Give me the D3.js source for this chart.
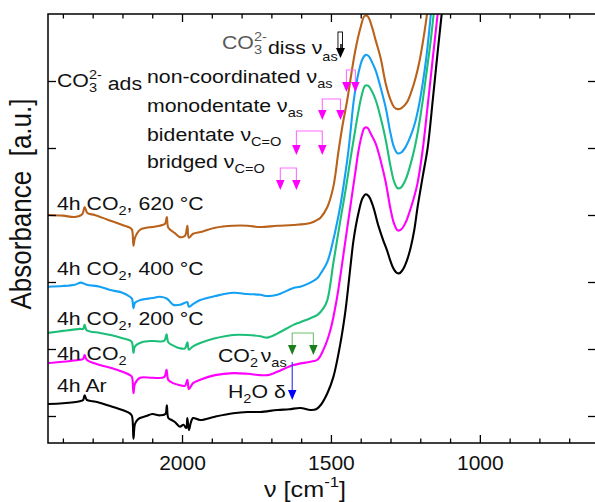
<!DOCTYPE html>
<html><head><meta charset="utf-8">
<script src="https://cdn.jsdelivr.net/npm/d3@7"></script>
<style>html,body{margin:0;padding:0;background:#fff;} svg{display:block;font-family:"Liberation Sans",Arial,Helvetica,sans-serif;}</style>
</head><body><svg id="c" width="595" height="502"></svg>
<script>
// ---------------- data ----------------
const wnMajorTicks = [2000, 1500, 1000];
const wnMinorTicks = [2400,2300,2200,2100,1900,1800,1700,1600,1400,1300,1200,1100,900,800,700];
const absTicks = [0, 0.1, 0.2, 0.3, 0.4, 0.5];

const specAr = [[2450,0.018],[2400,0.019],[2343,0.022],[2332,0.024],[2327,0.031],[2320,0.024],[2300,0.022],[2286,0.021],[2250,0.016],[2200,0.009],[2175,0.004],[2168,0.000],[2163,-0.034],[2158,-0.012],[2150,-0.006],[2141,-0.003],[2120,0.000],[2100,0.003],[2074,0.001],[2056,0.003],[2051,0.016],[2046,-0.003],[2035,-0.006],[2024,-0.009],[2007,-0.016],[1995,-0.013],[1986,-0.018],[1982,-0.003],[1977,-0.021],[1970,-0.009],[1963,-0.003],[1939,-0.006],[1889,-0.001],[1828,0.004],[1780,0.006],[1737,0.006],[1680,0.009],[1640,0.010],[1603,0.012],[1569,0.009],[1550,0.010],[1535,0.016],[1512,0.034],[1492,0.058],[1468,0.109],[1451,0.158],[1434,0.225],[1424,0.263],[1407,0.304],[1394,0.325],[1383,0.331],[1373,0.328],[1360,0.315],[1340,0.283],[1325,0.263],[1310,0.245],[1300,0.231],[1290,0.220],[1280,0.214],[1270,0.213],[1258,0.219],[1245,0.232],[1232,0.252],[1220,0.278],[1209,0.312],[1192,0.357],[1175,0.401],[1158,0.472],[1141,0.546],[1125,0.613],[1100,0.725]];

const specCO2 = [[2450,0.079],[2400,0.081],[2343,0.084],[2332,0.085],[2327,0.091],[2320,0.084],[2276,0.076],[2240,0.072],[2200,0.066],[2175,0.061],[2168,0.058],[2163,0.034],[2158,0.048],[2141,0.057],[2100,0.057],[2060,0.058],[2052,0.069],[2046,0.054],[2030,0.049],[2007,0.046],[1990,0.045],[1982,0.054],[1977,0.040],[1963,0.049],[1939,0.054],[1889,0.061],[1828,0.064],[1780,0.063],[1737,0.061],[1714,0.061],[1680,0.066],[1626,0.076],[1569,0.081],[1545,0.084],[1525,0.099],[1502,0.128],[1481,0.173],[1468,0.210],[1451,0.263],[1434,0.315],[1418,0.364],[1407,0.397],[1397,0.418],[1387,0.430],[1377,0.430],[1367,0.422],[1350,0.407],[1333,0.381],[1316,0.349],[1300,0.309],[1288,0.287],[1276,0.277],[1265,0.278],[1250,0.288],[1235,0.306],[1220,0.328],[1209,0.348],[1192,0.397],[1175,0.464],[1158,0.534],[1141,0.603],[1125,0.673]];

const spec200 = [[2450,0.124],[2400,0.127],[2343,0.130],[2332,0.130],[2327,0.136],[2320,0.128],[2276,0.124],[2240,0.121],[2200,0.116],[2175,0.113],[2168,0.110],[2163,0.094],[2158,0.104],[2135,0.110],[2100,0.112],[2060,0.112],[2052,0.122],[2046,0.110],[2024,0.104],[2007,0.101],[1990,0.101],[1982,0.110],[1977,0.099],[1963,0.104],[1939,0.109],[1889,0.116],[1828,0.121],[1780,0.121],[1737,0.119],[1714,0.117],[1680,0.123],[1626,0.136],[1603,0.140],[1569,0.146],[1545,0.151],[1525,0.161],[1512,0.173],[1492,0.228],[1478,0.266],[1468,0.293],[1451,0.337],[1434,0.385],[1424,0.412],[1410,0.449],[1397,0.478],[1385,0.493],[1375,0.493],[1365,0.487],[1350,0.472],[1333,0.445],[1316,0.412],[1300,0.373],[1288,0.350],[1276,0.340],[1265,0.341],[1250,0.352],[1235,0.372],[1220,0.398],[1206,0.430],[1192,0.470],[1178,0.516],[1165,0.560],[1155,0.600],[1140,0.658]];

const spec400 = [[2450,0.193],[2400,0.194],[2360,0.196],[2340,0.199],[2320,0.196],[2276,0.193],[2240,0.188],[2200,0.184],[2175,0.178],[2168,0.175],[2163,0.161],[2158,0.169],[2141,0.173],[2100,0.176],[2074,0.178],[2050,0.175],[2030,0.166],[2007,0.166],[1990,0.169],[1982,0.170],[1977,0.163],[1963,0.167],[1939,0.173],[1889,0.179],[1828,0.184],[1780,0.182],[1737,0.181],[1714,0.179],[1680,0.181],[1626,0.191],[1603,0.193],[1569,0.199],[1545,0.206],[1534,0.213],[1512,0.230],[1492,0.263],[1468,0.315],[1451,0.364],[1441,0.397],[1431,0.439],[1424,0.469],[1407,0.513],[1394,0.533],[1383,0.539],[1373,0.537],[1362,0.528],[1350,0.516],[1333,0.490],[1316,0.460],[1300,0.422],[1288,0.401],[1276,0.392],[1265,0.393],[1250,0.401],[1235,0.415],[1220,0.434],[1206,0.460],[1192,0.496],[1180,0.534],[1170,0.575],[1162,0.612],[1150,0.673]];

const spec620 = [[2450,0.300],[2400,0.299],[2360,0.297],[2335,0.301],[2327,0.312],[2318,0.303],[2293,0.300],[2250,0.293],[2200,0.285],[2175,0.281],[2168,0.278],[2163,0.254],[2158,0.266],[2141,0.278],[2120,0.281],[2100,0.282],[2075,0.284],[2057,0.287],[2051,0.297],[2046,0.281],[2024,0.273],[2007,0.267],[1990,0.269],[1982,0.284],[1977,0.266],[1963,0.272],[1933,0.275],[1889,0.281],[1828,0.284],[1780,0.284],[1737,0.282],[1680,0.284],[1626,0.285],[1569,0.288],[1545,0.293],[1535,0.296],[1512,0.312],[1492,0.342],[1475,0.394],[1461,0.434],[1445,0.472],[1431,0.512],[1418,0.546],[1401,0.579],[1387,0.597],[1377,0.597],[1363,0.582],[1350,0.561],[1333,0.534],[1316,0.496],[1300,0.472],[1288,0.461],[1276,0.458],[1262,0.460],[1245,0.468],[1230,0.484],[1215,0.506],[1202,0.531],[1185,0.576],[1172,0.618],[1155,0.681]];

const seriesNames = ["4h Ar", "4h CO2", "4h CO2, 200 °C", "4h CO2, 400 °C", "4h CO2, 620 °C"];
const seriesColors = ["#000000", "#ff00ff", "#1dbf78", "#14a0f5", "#b8621b"];

// band markers (wavenumbers)
const bandDiss = [1468];
const bandNonCoord = [1448, 1418];
const bandMono = [1529, 1468];
const bandBi = [1616, 1529];
const bandBridged = [1670, 1616];
const bandCO2m = [1630, 1559];
const bandH2O = [1630];

// ---------------- layout ----------------
const svg = d3.select('#c');
const m = {l:48, r:596, t:14, b:443};
const x = d3.scaleLinear().domain([2450, 610]).range([m.l, m.r]);
const y = d3.scaleLinear().domain([-0.0403, 0.6]).range([m.b, m.t]);
const FS = 19, SX = 1.12, SUB = 13;

// ---------------- rich text helper ----------------
function rich(parent, px, py, segs, opt){
  opt = opt || {};
  const t = parent.append('text')
    .attr('transform', `translate(${px},${py}) scale(${SX},1)`)
    .attr('font-size', opt.size || FS).attr('fill', opt.fill || '#111')
    .attr('xml:space','preserve').style('white-space','pre');
  let shift = 0, lastW = 0;
  segs.forEach(s=>{
    const sh = s.shift || 0;
    const sp = t.append('tspan').text(s.t);
    if (sh - shift) sp.attr('dy', sh - shift);
    if (s.size) sp.attr('font-size', s.size);
    if (s.fill) sp.attr('fill', s.fill);
    let dx = s.dx || 0;
    if (s.stack) dx -= lastW;
    if (dx) sp.attr('dx', dx);
    shift = sh;
    lastW = sp.node().getComputedTextLength();
  });
  return t;
}
const sub = t => ({t, size:SUB, shift:5});
const sup = (t, stack) => ({t, size:SUB, shift:-8, stack});

svg.append('rect').attr('width',595).attr('height',502).attr('fill','#fff');
svg.append('clipPath').attr('id','clip').append('rect')
  .attr('x', m.l).attr('y', m.t).attr('width', m.r-m.l).attr('height', m.b-m.t);

// spectra
const line = d3.line().x(d=>x(d[0])).y(d=>y(d[1])).curve(d3.curveCatmullRom.alpha(0.5));
const allSpec = [specAr, specCO2, spec200, spec400, spec620];
const gl = svg.append('g').attr('clip-path','url(#clip)');
allSpec.forEach((s,i)=>{
  gl.append('path').datum(s).attr('d', line).attr('fill','none')
    .attr('stroke', seriesColors[i]).attr('stroke-width', 2.1).attr('stroke-linejoin','round');
});

// axes
function styleAxis(g){ g.select('.domain').remove(); g.selectAll('line').attr('stroke','#000').attr('stroke-width',1.3); }
svg.append('g').attr('transform',`translate(0,${m.b})`)
  .call(d3.axisBottom(x).tickValues(wnMinorTicks).tickSize(-4.5).tickFormat('')).call(styleAxis);
const xb = svg.append('g').attr('transform',`translate(0,${m.b})`)
  .call(d3.axisBottom(x).tickValues(wnMajorTicks).tickSizeInner(-8).tickSizeOuter(0).tickPadding(12).tickFormat(d3.format('d'))).call(styleAxis);
xb.selectAll('text').attr('font-size',21).attr('fill','#111').attr('font-family','"Liberation Sans",Arial,sans-serif');
svg.append('g').attr('transform',`translate(0,${m.t})`)
  .call(d3.axisTop(x).tickValues(wnMinorTicks).tickSize(-4.5).tickFormat('')).call(styleAxis);
svg.append('g').attr('transform',`translate(0,${m.t})`)
  .call(d3.axisTop(x).tickValues(wnMajorTicks).tickSize(-8).tickFormat('')).call(styleAxis);
svg.append('g').attr('transform',`translate(${m.l},0)`)
  .call(d3.axisLeft(y).tickValues(absTicks).tickSize(-8).tickFormat('')).call(styleAxis);
svg.append('g').attr('transform',`translate(${m.r},0)`)
  .call(d3.axisRight(y).tickValues(absTicks).tickSize(-8).tickFormat('')).call(styleAxis);
svg.append('rect').attr('x',m.l).attr('y',m.t).attr('width',m.r-m.l).attr('height',m.b-m.t)
  .attr('fill','none').attr('stroke','#000').attr('stroke-width',1.5);

// axis titles
svg.append('text').attr('transform','translate(31,204) rotate(-90) scale(1,1.1)').attr('text-anchor','middle')
  .attr('font-size',26).attr('fill','#111').text('Absorbance\u00a0\u00a0[a.u.]');
rich(svg, 264, 497, [{t:'ν [cm'},{t:'-1',size:15,shift:-10},{t:']'}], {size:22.5, fill:'#111'});

// curve labels
const labelY = [392, 360, 325, 275, 210];
seriesNames.forEach((n,i)=>{
  if (i === 0) rich(svg, 57, labelY[i], [{t:n}]);
  else {
    const rest = n.slice(6);
    const segs = [{t:'4h CO'}, sub('2')];
    if (rest) segs.push({t:rest});
    rich(svg, 57, labelY[i], segs);
  }
});

// annotations
const GR = '#5a5a5a';
rich(svg, 222, 49, [{t:'CO',fill:GR},{t:'3',size:SUB,shift:5,fill:GR},{t:'2-',size:SUB,shift:-8,stack:true,fill:GR},{t:'diss',shift:5,dx:1},{t:' ν',shift:5},{t:'as',size:SUB,shift:12}]);
rich(svg, 57, 87, [{t:'CO'}, sub('3'), sup('2-',true), {t:' ads', shift:3}]);
rich(svg, 147, 83, [{t:'non-coordinated ν'}, sub('as')]);
rich(svg, 147, 112, [{t:'monodentate ν'}, sub('as')]);
rich(svg, 147, 141, [{t:'bidentate ν'}, sub('C=O')]);
rich(svg, 147, 168, [{t:'bridged ν'}, sub('C=O')]);
rich(svg, 218, 362, [{t:'CO'}, sub('2'), sup('-',true), {t:' ν'}, sub('as')]);
rich(svg, 228, 398, [{t:'H'}, sub('2'), {t:'O δ'}]);

// bracket arrows
function bracket(bands, top, tip, lineCol, headCol){
  const xs = bands.map(b=>x(b));
  const hh = 10, hw = 8.5;
  const g = svg.append('g');
  if (xs.length === 2){
    g.append('path').attr('d', `M${xs[0]},${tip-hh+1}V${top}H${xs[1]}V${tip-hh+1}`)
      .attr('fill','none').attr('stroke',lineCol).attr('stroke-width',1.1);
  } else {
    g.append('line').attr('x1',xs[0]).attr('x2',xs[0]).attr('y1',top).attr('y2',tip-hh+1)
      .attr('stroke',lineCol).attr('stroke-width',1.1);
  }
  xs.forEach(px=>{
    g.append('path').attr('d', `M${px-hw/2},${tip-hh}L${px+hw/2},${tip-hh}L${px},${tip}Z`).attr('fill',headCol);
  });
}
bracket(bandNonCoord, 70, 92, '#ff6cff', '#ff00ff');
bracket(bandMono, 99, 120, '#ff6cff', '#ff00ff');
bracket(bandBi, 131, 155, '#ff6cff', '#ff00ff');
bracket(bandBridged, 168, 190, '#ff6cff', '#ff00ff');
bracket(bandCO2m, 333, 355, '#6fbf6f', '#1a7f1a');
bracket(bandH2O, 362, 400, '#2b2bff', '#0000ff');

// dissolved carbonate arrow (hollow + black head)
const xd = x(bandDiss[0]);
svg.append('rect').attr('x', xd-2.5).attr('y', 32).attr('width', 4.5).attr('height', 18)
  .attr('fill','#fff').attr('stroke','#000').attr('stroke-width',0.9);
svg.append('path').attr('d', `M${xd-4.5},${48}L${xd+4.5},${48}L${xd},${58}Z`).attr('fill','#000');
svg.append('line').attr('x1',xd+0.5).attr('x2',xd+0.5).attr('y1',44).attr('y2',50).attr('stroke','#000').attr('stroke-width',1.5);
</script>
</body></html>
